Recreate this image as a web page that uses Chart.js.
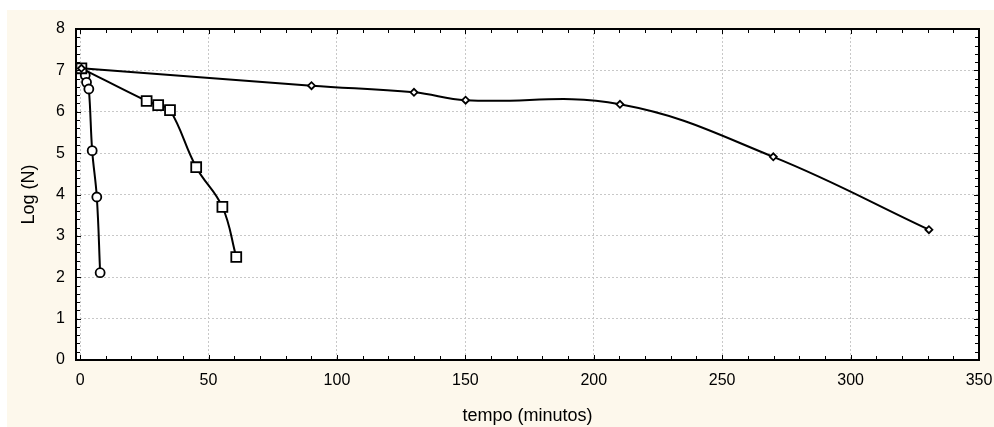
<!DOCTYPE html>
<html><head><meta charset="utf-8">
<style>html,body{margin:0;padding:0;background:#fff;}canvas{display:block;}</style>
<script src="https://cdn.jsdelivr.net/npm/chart.js@4/dist/chart.umd.min.js"></script>
</head><body>
<canvas id="c" width="994" height="427"></canvas>
<script>
// ---- data ----
const circleX  = [0.5, 2.0, 2.5, 3.4, 4.7, 6.5, 7.8];
const circleY  = [7.05, 6.88, 6.71, 6.55, 5.06, 3.94, 2.11];
const squareX  = [0.5, 25.9, 30.4, 35.0, 45.2, 55.4, 60.8];
const squareY  = [7.05, 6.26, 6.16, 6.04, 4.66, 3.70, 2.49];
const diamondX = [0.5, 90.1, 130.0, 150.1, 210.2, 269.9, 330.5];
const diamondY = [7.05, 6.63, 6.47, 6.28, 6.18, 4.91, 3.15];
const xTicks = [0, 50, 100, 150, 200, 250, 300, 350];
const yTicks = [0, 1, 2, 3, 4, 5, 6, 7, 8];
const xMinorStep = 10;
const yMinorStep = 0.2;
const xTitle = 'tempo (minutos)';
const yTitle = 'Log (N)';

const FONT = '"Liberation Sans", Arial, sans-serif';
function pts(xs, ys) { return xs.map((x, i) => ({ x: x, y: ys[i] })); }

const framePlugin = {
  id: 'frame',
  beforeDraw(chart) {
    const ctx = chart.ctx, a = chart.chartArea;
    ctx.save();
    ctx.fillStyle = '#ffffff';
    ctx.fillRect(0, 0, chart.width, chart.height);
    ctx.fillStyle = '#fdf8ec';
    ctx.fillRect(7, 10, chart.width - 7, chart.height - 10);
    ctx.fillStyle = '#ffffff';
    ctx.fillRect(a.left, a.top, a.right - a.left, a.bottom - a.top);
    ctx.restore();
  },
  afterDraw(chart) {
    const ctx = chart.ctx, a = chart.chartArea, xs = chart.scales.x, ys = chart.scales.y;
    ctx.save();
    ctx.strokeStyle = '#000';
    ctx.lineWidth = 1;
    ctx.beginPath();
    const xMax = xTicks[xTicks.length - 1];
    for (let k = 0; k * xMinorStep <= xMax + 1e-9; k++) {
      const v = k * xMinorStep;
      const px = Math.round(xs.getPixelForValue(v)) + 0.5;
      const L = (v % 50 === 0) ? 5 : 4;
      ctx.moveTo(px, a.bottom); ctx.lineTo(px, a.bottom - L);
      ctx.moveTo(px, a.top); ctx.lineTo(px, a.top + L);
    }
    const yMax = yTicks[yTicks.length - 1];
    for (let k = 0; k * yMinorStep <= yMax + 1e-9; k++) {
      const v = k * yMinorStep;
      const py = Math.round(ys.getPixelForValue(v)) + 0.5;
      const L = (k % 5 === 0) ? 5 : 4;
      ctx.moveTo(a.left, py); ctx.lineTo(a.left + L, py);
      ctx.moveTo(a.right, py); ctx.lineTo(a.right - L, py);
    }
    ctx.stroke();
    ctx.lineWidth = 2;
    ctx.strokeRect(a.left, a.top, a.right - a.left, a.bottom - a.top);
    ctx.restore();
  }
};

const common = {
  borderColor: '#000',
  borderWidth: 2,
  tension: 0.4,
  fill: false,
  pointBackgroundColor: '#fff',
  pointBorderColor: '#000',
  pointBorderWidth: 1.8
};

new Chart(document.getElementById('c'), {
  type: 'line',
  data: {
    datasets: [
      Object.assign({ label: 'diamonds', data: pts(diamondX, diamondY), pointStyle: 'rectRot', pointRadius: 3.5 }, common),
      Object.assign({ label: 'squares', data: pts(squareX, squareY), pointStyle: 'rect', pointRadius: 7 }, common),
      Object.assign({ label: 'circles', data: pts(circleX, circleY), pointStyle: 'circle', pointRadius: 4.5 }, common)
    ]
  },
  options: {
    responsive: false,
    devicePixelRatio: 1,
    animation: false,
    layout: { padding: { top: 29, right: 15, left: 0, bottom: 0 } },
    plugins: { legend: { display: false }, tooltip: { enabled: false } },
    scales: {
      x: {
        type: 'linear', position: 'bottom', min: -1.6, max: 350,
        afterBuildTicks: s => { s.ticks = xTicks.map(v => ({ value: v })); },
        afterFit: s => { s.height = 67; s.paddingLeft = 0; s.paddingRight = 0; },
        grid: { color: '#c8c8c8', lineWidth: 1, drawTicks: false },
        border: { display: false, dash: [2, 2] },
        ticks: { color: '#000', padding: 11, font: { family: FONT, size: 16 }, maxRotation: 0 },
        title: { display: true, text: xTitle, color: '#000', font: { family: FONT, size: 18 }, padding: { top: 0, bottom: 0 } }
      },
      y: {
        type: 'linear', position: 'left', min: 0, max: 8,
        afterBuildTicks: s => { s.ticks = yTicks.map(v => ({ value: v })); },
        afterFit: s => { s.width = 76; s.paddingTop = 0; s.paddingBottom = 0; },
        grid: { color: '#c8c8c8', lineWidth: 1, drawTicks: false },
        border: { display: false, dash: [2, 2] },
        ticks: { color: '#000', padding: 11, font: { family: FONT, size: 16 } },
        title: { display: true, text: yTitle, color: '#000', font: { family: FONT, size: 18 }, padding: { top: 18, bottom: 0 } }
      }
    }
  },
  plugins: [framePlugin]
});
</script>
</body></html>
